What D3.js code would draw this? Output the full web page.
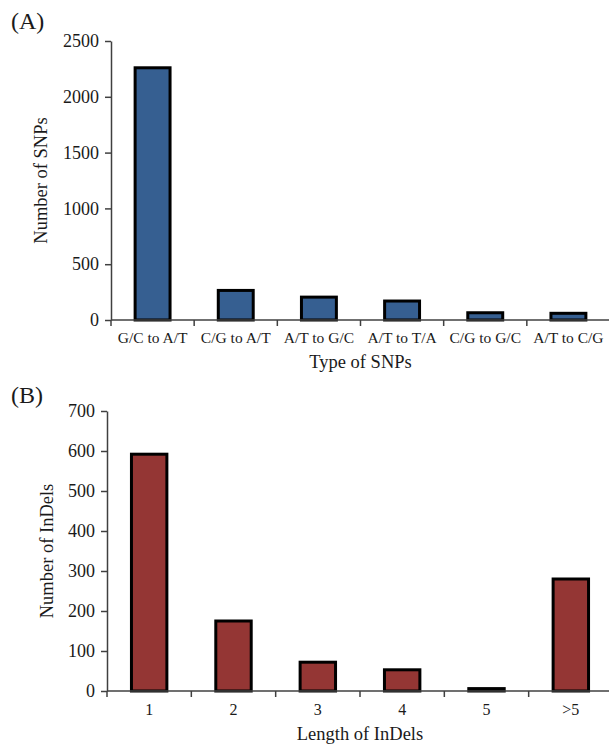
<!DOCTYPE html>
<html>
<head>
<meta charset="utf-8">
<script src="https://cdn.jsdelivr.net/npm/d3@7"></script>
<style>
  body { margin: 0; background: #fff; }
  svg text { font-family: "Liberation Serif", "Times New Roman", serif; fill: #1a1a1a; }
</style>
</head>
<body>
<div id="chart"></div>
<script>
// panel A - SNP types
const snpTypes = ["G/C to A/T", "C/G to A/T", "A/T to G/C", "A/T to T/A", "C/G to G/C", "A/T to C/G"];
const snpCounts = [2260, 265, 205, 170, 65, 60];
const snpTicks = [0, 500, 1000, 1500, 2000, 2500];

// panel B - InDel lengths
const indelLengths = ["1", "2", "3", "4", "5", ">5"];
const indelCounts = [592, 175, 72, 53, 6, 280];
const indelTicks = [0, 100, 200, 300, 400, 500, 600, 700];

const width = 609, height = 747;
const svg = d3.select("#chart").append("svg")
  .attr("width", width)
  .attr("height", height);

function drawPanel(p) {
  const g = svg.append("g");

  const y = d3.scaleLinear().domain([0, p.ymax]).range([p.y0, p.y1]);
  // band scale for bars, centred in each category slot
  const x = d3.scaleBand().domain(p.cats).range([p.x0, p.x1])
    .paddingInner(0.58).paddingOuter(0.29);
  // slot boundaries for the tick marks
  const slots = d3.scaleBand().domain(p.cats).range([p.x0, p.x1]).padding(0);

  // y axis
  const yAxis = g.append("g")
    .attr("transform", `translate(${p.x0},0)`)
    .call(d3.axisLeft(y).tickValues(p.ticks).tickFormat(d3.format("d"))
      .tickSize(6).tickSizeOuter(0).tickPadding(6));
  yAxis.select(".domain").attr("stroke", "#404040").attr("stroke-width", 1.5);
  yAxis.selectAll(".tick line").attr("stroke", "#404040").attr("stroke-width", 1.5);
  yAxis.selectAll(".tick text")
    .style("font-size", "18px")
    .attr("fill", "#1a1a1a");

  // bars
  g.selectAll("rect.bar")
    .data(p.values)
    .enter().append("rect")
    .attr("class", "bar")
    .attr("x", (d, i) => x(p.cats[i]))
    .attr("width", x.bandwidth())
    .attr("y", d => y(d))
    .attr("height", d => y(0) - y(d))
    .attr("fill", p.color)
    .attr("stroke", "#000")
    .attr("stroke-width", 3);

  // x axis baseline
  g.append("line")
    .attr("x1", p.x0).attr("x2", p.x1)
    .attr("y1", y(0)).attr("y2", y(0))
    .attr("stroke", "#404040").attr("stroke-width", 1.5);

  // tick marks at slot boundaries
  const bounds = p.cats.map(c => slots(c)).concat([p.x1]);
  g.selectAll("line.xt")
    .data(bounds)
    .enter().append("line")
    .attr("class", "xt")
    .attr("x1", d => d).attr("x2", d => d)
    .attr("y1", y(0)).attr("y2", y(0) + 6)
    .attr("stroke", "#404040").attr("stroke-width", 1.5);

  // category labels
  g.selectAll("text.cat")
    .data(p.cats)
    .enter().append("text")
    .attr("class", "cat")
    .attr("x", d => slots(d) + slots.bandwidth() / 2)
    .attr("y", p.catY)
    .attr("text-anchor", "middle")
    .style("font-size", p.catSize + "px")
    .text(d => d);

  // axis titles
  g.append("text")
    .attr("x", (p.x0 + p.x1) / 2)
    .attr("y", p.xTitleY)
    .attr("text-anchor", "middle")
    .style("font-size", "18.5px")
    .text(p.xTitle);

  g.append("text")
    .attr("transform", `translate(${p.yTitleX},${(p.y0 + p.y1) / 2}) rotate(-90)`)
    .attr("text-anchor", "middle")
    .style("font-size", "18.5px")
    .text(p.yTitle);

  // panel letter
  g.append("text")
    .attr("x", 11)
    .attr("y", p.letterY)
    .style("font-size", "24px")
    .text(p.letter);
}

drawPanel({
  cats: snpTypes, values: snpCounts, ticks: snpTicks, ymax: 2500,
  x0: 111, x1: 610, y0: 320, y1: 41,
  color: "#365f91", catY: 343, catSize: 15.5,
  xTitle: "Type of SNPs", xTitleY: 368,
  yTitle: "Number of SNPs", yTitleX: 47,
  letter: "(A)", letterY: 29
});

drawPanel({
  cats: indelLengths, values: indelCounts, ticks: indelTicks, ymax: 700,
  x0: 107, x1: 613, y0: 691, y1: 411,
  color: "#943634", catY: 715, catSize: 16,
  xTitle: "Length of InDels", xTitleY: 740,
  yTitle: "Number of InDels", yTitleX: 53,
  letter: "(B)", letterY: 403
});
</script>
</body>
</html>
